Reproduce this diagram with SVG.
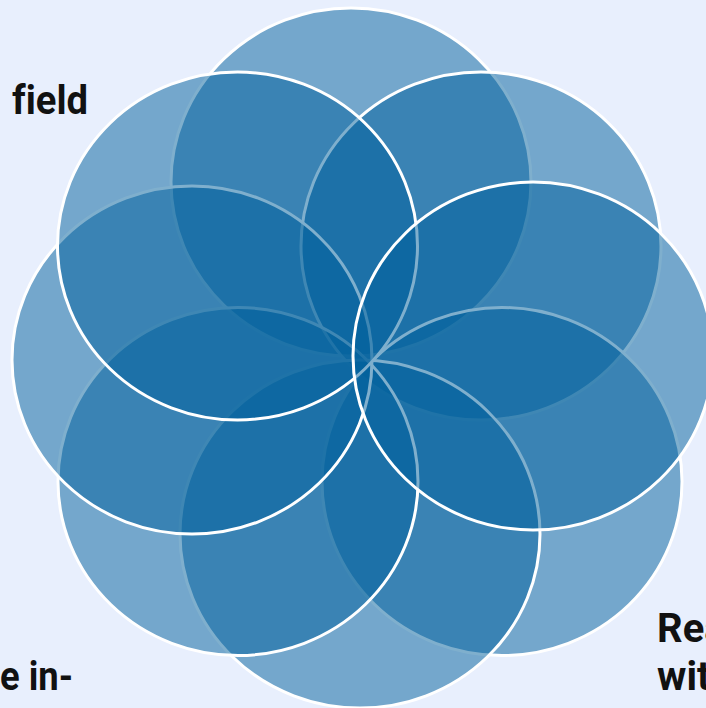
<svg xmlns="http://www.w3.org/2000/svg" width="706" height="708" viewBox="0 0 706 708">
<style>
.petal{fill:rgb(0,95,155);fill-opacity:0.5;stroke:#ffffff;stroke-width:3}
.lbl{font-family:Roboto,"Liberation Sans",sans-serif;font-weight:700;font-size:40px;fill:#111111;font-variant-ligatures:none}
</style>
<rect width="706" height="708" fill="#e8effd"/>
<g id="petals">
<g id="petal-top"><ellipse class="petal" cx="351" cy="182" rx="180" ry="174"/></g>
<g id="petal-upper-right"><ellipse class="petal" cx="481" cy="246" rx="180" ry="174"/></g>
<g id="petal-lower-right"><ellipse class="petal" cx="502" cy="481.5" rx="180" ry="174"/></g>
<g id="petal-bottom"><ellipse class="petal" cx="360" cy="534" rx="180" ry="174"/></g>
<g id="petal-lower-left"><ellipse class="petal" cx="238" cy="481.5" rx="180" ry="174"/></g>
<g id="petal-left"><ellipse class="petal" cx="192" cy="360" rx="180" ry="174"/></g>
<g id="petal-upper-left"><ellipse class="petal" cx="237.5" cy="246" rx="180" ry="174"/></g>
<g id="petal-right"><ellipse class="petal" cx="533" cy="356" rx="180" ry="174"/></g>
</g>
<g id="labels">
<text class="lbl" x="12" y="114" textLength="76" lengthAdjust="spacingAndGlyphs">field</text>
<text class="lbl" x="0" y="690" textLength="73" lengthAdjust="spacingAndGlyphs">e in-</text>
<text class="lbl" x="657" y="642">Rea</text>
<text class="lbl" x="657" y="690">wit</text>
</g>
</svg>
